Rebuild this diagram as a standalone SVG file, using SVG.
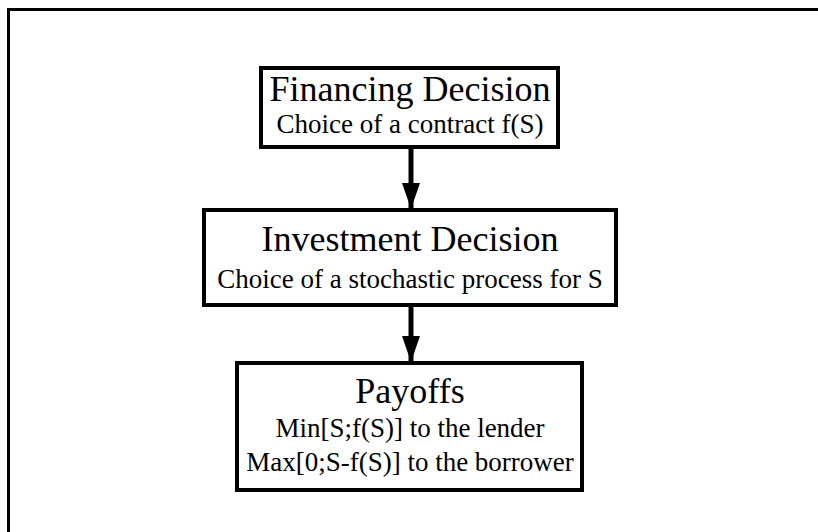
<svg xmlns="http://www.w3.org/2000/svg" width="818" height="532" viewBox="0 0 818 532">
  <style>
    .box { fill: #fff; stroke: #000; stroke-width: 4; }
    .link { stroke: #000; stroke-width: 5; fill: none; }
    .title { font-family: "Liberation Serif", "Times New Roman", serif; font-size: 36px; fill: #000; text-anchor: middle; }
    .sub { font-family: "Liberation Serif", "Times New Roman", serif; font-size: 27px; fill: #000; text-anchor: middle; }
  </style>
  <defs>
    <marker id="arrow" markerUnits="userSpaceOnUse" markerWidth="28" markerHeight="20" refX="26" refY="9" orient="auto">
      <path d="M0,0 L26,9 L0,18 Z" fill="#000"/>
    </marker>
  </defs>
  <rect width="818" height="532" fill="#fff"/>
  <!-- page frame: left and top rules -->
  <path d="M8.5,532 L8.5,9.5 L818,9.5" fill="none" stroke="#000" stroke-width="3"/>

  <g id="connectors">
    <line class="link" x1="411" y1="148" x2="411" y2="209" marker-end="url(#arrow)"/>
    <line class="link" x1="411" y1="305" x2="411" y2="362" marker-end="url(#arrow)"/>
  </g>

  <g id="financing">
    <rect class="box" x="261" y="68" width="297" height="79"/>
    <text class="title" x="410" y="101">Financing Decision</text>
    <text class="sub" x="410" y="133">Choice of a contract f(S)</text>
  </g>

  <g id="investment">
    <rect class="box" x="204" y="210" width="412" height="95"/>
    <text class="title" x="410" y="251">Investment Decision</text>
    <text class="sub" x="410" y="288">Choice of a stochastic process for S</text>
  </g>

  <g id="payoffs">
    <rect class="box" x="237" y="363" width="345" height="127"/>
    <text class="title" x="410" y="403">Payoffs</text>
    <text class="sub" x="410" y="437">Min[S;f(S)] to the lender</text>
    <text class="sub" x="410" y="471">Max[0;S-f(S)] to the borrower</text>
  </g>
</svg>
